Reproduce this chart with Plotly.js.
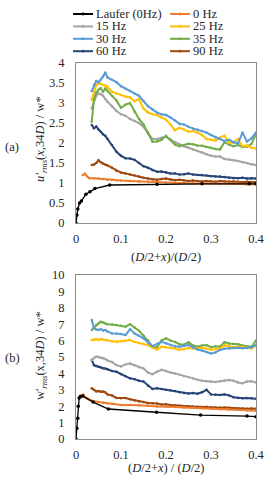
<!DOCTYPE html>
<html>
<head>
<meta charset="utf-8">
<script src="https://cdn.plot.ly/plotly-3.0.1.min.js"></script>
<style>html,body{margin:0;padding:0;background:#fff;}#chart{width:271px;height:480px;}</style>
</head>
<body>
<div id="chart"></div>
<script>
// ---------- DATA ----------
var seriesNames = ["Laufer (0Hz)", "0 Hz", "15 Hz", "25 Hz", "30 Hz", "35 Hz", "60 Hz", "90 Hz"];
var seriesColors = ["#000000", "#ED7D31", "#A5A5A5", "#FFC000", "#5B9BD5", "#70AD47", "#264478", "#9E480E"];

var xTickVals = [0, 0.1, 0.2, 0.3, 0.4];

// common x positions of the measured (coloured) series
var xs = [0.035,0.04,0.045,0.05,0.055,0.06,0.065,0.07,0.08,0.09,0.10,0.11,0.12,0.13,0.14,0.15,0.16,0.17,0.18,0.19,0.20,0.21,0.22,0.23,0.24,0.25,0.26,0.27,0.28,0.29,0.30,0.31,0.32,0.33,0.34,0.35,0.36,0.37,0.38,0.39,0.40];

// (a) u'rms
var lauferXa = [0, 0.002, 0.004, 0.008, 0.012, 0.022, 0.031, 0.042, 0.075, 0.18, 0.28, 0.385, 0.4];
var lauferYa = [0, 0.2, 0.35, 0.5, 0.55, 0.72, 0.78, 0.86, 0.95, 0.97, 0.98, 0.98, 0.98];
var hz0Xa = [0.015,0.02,0.025,0.03,0.04,0.05,0.06,0.07,0.08,0.09,0.10,0.12,0.14,0.16,0.18,0.20,0.22,0.24,0.26,0.28,0.30,0.32,0.34,0.36,0.38,0.40];
var hz0Ya = [1.20,1.23,1.16,1.12,1.12,1.11,1.10,1.08,1.08,1.07,1.06,1.05,1.04,1.03,1.02,1.01,1.00,1.00,0.99,0.99,0.99,0.98,0.98,0.98,0.97,0.97];
var hz15a = [2.87,3.05,3.18,3.24,3.22,3.18,3.10,3.03,2.92,2.80,2.72,2.68,2.60,2.55,2.50,2.40,2.26,2.10,2.10,2.13,2.16,2.08,2.02,1.96,1.92,1.88,1.84,1.80,1.76,1.72,1.68,1.66,1.66,1.60,1.59,1.57,1.55,1.52,1.50,1.47,1.45];
var hz25a = [3.08,3.28,3.45,3.49,3.48,3.45,3.44,3.40,3.28,3.24,3.20,3.16,3.14,3.04,3.10,2.86,2.76,2.72,2.70,2.64,2.58,2.46,2.32,2.38,2.34,2.28,2.30,2.26,2.20,2.10,2.08,2.06,2.14,2.18,2.00,2.02,2.10,1.92,1.94,1.88,1.86];
var hz30a = [3.30,3.45,3.55,3.52,3.58,3.66,3.76,3.64,3.58,3.52,3.42,3.36,3.30,3.24,3.18,3.05,2.92,2.84,2.76,2.72,2.70,2.64,2.56,2.48,2.46,2.40,2.36,2.33,2.30,2.26,2.20,2.14,2.10,2.05,2.08,2.02,1.99,2.26,2.04,2.12,2.26];
var hz35a = [2.53,3.10,3.26,3.33,3.37,3.28,3.36,3.30,3.18,3.06,2.88,2.96,3.00,2.78,2.60,2.46,2.24,2.03,2.04,2.08,2.18,2.08,1.96,1.92,1.95,1.98,1.97,1.94,1.93,1.90,1.88,1.85,1.84,2.02,1.96,1.92,1.95,1.90,1.91,1.98,2.22];
var hz60a = [2.45,2.37,2.41,2.33,2.28,2.22,2.18,2.10,1.95,1.78,1.68,1.62,1.61,1.58,1.50,1.42,1.38,1.32,1.28,1.29,1.27,1.24,1.24,1.21,1.22,1.24,1.21,1.20,1.20,1.19,1.17,1.16,1.16,1.15,1.13,1.12,1.12,1.13,1.11,1.12,1.11];
var hz90a = [1.45,1.46,1.50,1.57,1.52,1.48,1.46,1.44,1.38,1.30,1.26,1.24,1.21,1.19,1.16,1.13,1.11,1.09,1.08,1.10,1.11,1.09,1.07,1.08,1.06,1.05,1.06,1.05,1.04,1.05,1.04,1.03,1.05,1.04,1.03,1.04,1.03,1.02,1.03,1.02,1.02];

// (b) w'rms
var lauferXb = [0, 0.002, 0.004, 0.005, 0.007, 0.01, 0.015, 0.038, 0.072, 0.179, 0.277, 0.38, 0.4];
var lauferYb = [0, 0.65, 1.26, 2.0, 2.5, 2.6, 2.62, 2.25, 1.83, 1.63, 1.46, 1.40, 1.36];
var hz0Xb = [0.013,0.016,0.02,0.025,0.03,0.04,0.05,0.06,0.07,0.08,0.10,0.12,0.14,0.16,0.18,0.20,0.22,0.24,0.26,0.28,0.30,0.32,0.34,0.36,0.38,0.40];
var hz0Yb = [2.55,2.72,2.55,2.45,2.40,2.30,2.25,2.20,2.18,2.15,2.08,2.07,2.06,2.02,1.98,1.98,1.95,1.92,1.90,1.88,1.85,1.82,1.80,1.78,1.75,1.72];
var hz15b = [4.82,4.95,5.02,5.00,4.96,4.92,4.88,4.78,4.70,4.50,4.42,4.55,4.60,4.50,4.38,4.30,4.05,3.95,4.10,4.22,4.15,4.05,4.00,3.92,3.82,3.78,3.70,3.62,3.55,3.52,3.50,3.48,3.52,3.55,3.60,3.55,3.45,3.40,3.50,3.52,3.45];
var hz25b = [6.04,6.06,6.08,6.04,6.10,6.06,6.04,6.02,5.95,5.93,5.96,5.98,6.04,5.92,5.86,5.80,5.72,5.58,5.45,5.62,5.60,5.56,5.52,5.44,5.48,5.55,5.52,5.52,5.56,5.50,5.45,5.48,5.52,5.72,5.65,5.60,5.62,5.62,5.58,5.52,5.70];
var hz30b = [7.26,6.75,6.68,6.65,6.70,6.62,6.65,6.55,6.44,6.44,6.40,6.34,6.70,6.44,6.30,6.14,5.88,5.66,5.80,5.92,5.84,5.73,5.65,5.63,5.68,5.73,5.60,5.45,5.40,5.30,5.22,5.28,5.43,5.50,5.53,5.55,5.56,5.53,5.55,5.60,5.73];
var hz35b = [6.65,6.80,6.95,7.05,7.15,7.10,7.05,7.00,6.98,6.95,6.90,6.85,7.00,6.80,6.60,6.30,6.00,5.65,5.60,6.00,6.14,6.00,5.92,5.78,5.75,5.90,5.70,5.62,5.70,5.73,5.60,5.65,5.63,5.90,5.82,5.80,5.78,5.70,5.65,5.62,6.00];
var hz60b = [4.82,4.50,4.45,4.40,4.38,4.32,4.30,4.25,4.15,4.10,3.95,3.82,3.70,3.65,3.55,3.50,3.25,3.05,3.10,3.05,3.00,2.98,2.92,2.85,2.80,2.78,2.80,2.76,2.85,3.00,2.72,2.70,2.68,2.72,2.66,2.55,2.50,2.48,2.50,2.48,2.45];
var hz90b = [3.09,3.00,2.90,2.92,2.88,2.90,2.85,2.72,2.65,2.50,2.48,2.50,2.42,2.35,2.28,2.25,2.20,2.18,2.17,2.10,2.12,2.08,2.05,2.02,2.00,2.00,1.98,1.96,1.95,1.96,1.93,1.92,1.90,1.92,1.90,1.88,1.87,1.86,1.85,1.86,1.85];

// ---------- BUILD ----------
var FONT = "Liberation Serif";
var TXT = "#262626";

var setA = [[lauferXa, lauferYa],[hz0Xa, hz0Ya],[xs, hz15a],[xs, hz25a],[xs, hz30a],[xs, hz35a],[xs, hz60a],[xs, hz90a]];
var setB = [[lauferXb, lauferYb],[hz0Xb, hz0Yb],[xs, hz15b],[xs, hz25b],[xs, hz30b],[xs, hz35b],[xs, hz60b],[xs, hz90b]];
var drawOrder = [7, 6, 2, 5, 3, 4, 1, 0];

var traces = [];
function addSet(set, xa, ya) {
  drawOrder.forEach(function (i) {
    traces.push({
      x: set[i][0], y: set[i][1], xaxis: xa, yaxis: ya,
      type: "scatter", mode: "lines+markers", name: seriesNames[i], showlegend: false,
      line: {color: seriesColors[i], width: i === 0 ? 1.3 : 2},
      marker: {color: seriesColors[i], size: i === 0 ? 3.5 : 2.5},
      hoverinfo: "skip"
    });
  });
}
addSet(setA, "x", "y");
addSet(setB, "x2", "y2");

// pixel -> paper helpers (plot area: l=76, t=63, w=180, h=376)
var L = 76, T = 63, W = 180, H = 376;
function px(x) { return (x - L) / W; }
function py(y) { return (T + H - y) / H; }

var shapes = [], annotations = [];
// manual legend (2 columns x 4 rows)
seriesNames.forEach(function (name, i) {
  var col = i % 2, row = Math.floor(i / 2);
  var x0 = [73, 170][col], yy = 14 + row * 12.4;
  shapes.push({type: "line", xref: "paper", yref: "paper", x0: px(x0), x1: px(x0 + 20), y0: py(yy), y1: py(yy),
               line: {color: seriesColors[i], width: 2}});
  shapes.push({type: "circle", xref: "paper", yref: "paper", x0: px(x0 + 8.6), x1: px(x0 + 11.4), y0: py(yy + 1.4), y1: py(yy - 1.4),
               fillcolor: seriesColors[i], line: {width: 0}});
  annotations.push({text: name, xref: "paper", yref: "paper", x: px(x0 + 22), y: py(yy), xanchor: "left", yanchor: "middle",
                    showarrow: false, borderpad: 0, font: {family: FONT, size: 12.5, color: TXT}});
});

function ann(text, x, y, angle) {
  annotations.push({text: text, xref: "paper", yref: "paper", x: px(x), y: py(y), xanchor: "center", yanchor: "middle",
                    showarrow: false, borderpad: 0, textangle: angle || 0, font: {family: FONT, size: 12.5, color: TXT}});
}
ann("(<i>D</i>/2+<i>x</i>)/(<i>D</i>/2)", 166, 257);
ann("(<i>D</i>/2+<i>x</i>) / (<i>D</i>/2)", 166, 468);
ann("<i>u'<sub>rms</sub></i>(<i>x</i>,34<i>D</i>) / w*", 41, 139, -90);
ann("w'<sub><i>rms</i></sub>(x,34<i>D</i>) / w*", 41, 356, -90);
ann("(a)", 12.5, 147);
ann("(b)", 12.5, 358);

var axCommon = {
  showline: true, mirror: true, linecolor: "#8C8C8C", linewidth: 1,
  showgrid: false, zeroline: false, ticks: "", fixedrange: true,
  tickfont: {family: FONT, size: 12.5, color: TXT}
};
function ax(extra) { return Object.assign({}, axCommon, extra); }

var layout = {
  width: 271, height: 480,
  font: {family: FONT, size: 12.5, color: TXT},
  margin: {l: L, r: 271 - L - W, t: T, b: 480 - T - H, pad: 0},
  paper_bgcolor: "#ffffff", plot_bgcolor: "#ffffff",
  showlegend: false,
  xaxis: ax({anchor: "y", domain: [0, 1], range: [0, 0.4], tickvals: xTickVals, ticklabelstandoff: 4}),
  yaxis: ax({anchor: "x", domain: [py(223), 1], range: [0, 4], dtick: 0.5, ticklabelstandoff: 8}),
  xaxis2: ax({anchor: "y2", domain: [0, 1], range: [0, 0.4], tickvals: xTickVals, ticklabelstandoff: 4}),
  yaxis2: ax({anchor: "x2", domain: [0, py(275)], range: [0, 10], dtick: 1, ticklabelstandoff: 8}),
  shapes: shapes,
  annotations: annotations
};

Plotly.newPlot("chart", traces, layout, {displayModeBar: false, staticPlot: true});
</script>
</body>
</html>
